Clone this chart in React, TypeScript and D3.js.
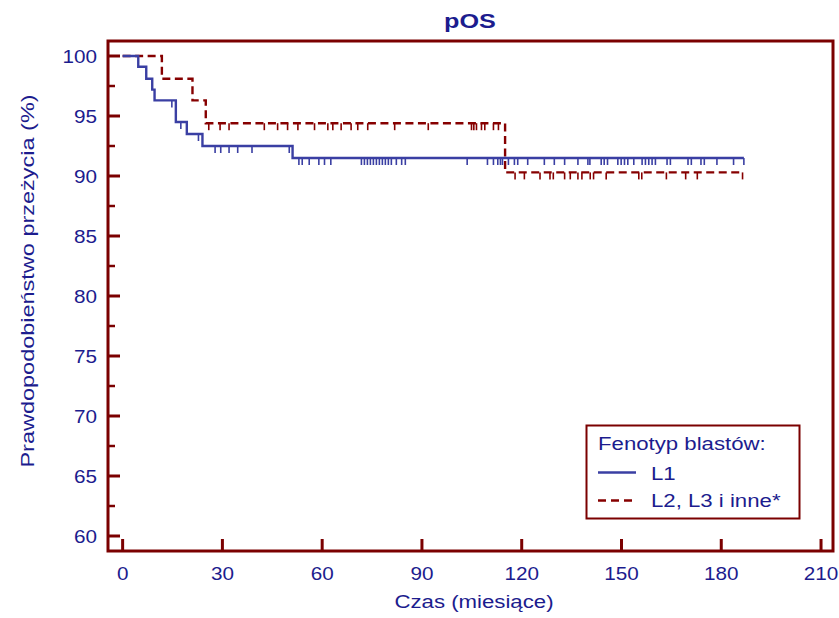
import React from "react";
import * as d3 from "d3";

// Kaplan-Meier steps (months, survival %)
const l1Times = [4.7, 7.1, 8.9, 9.6, 16.0, 19.3, 24.0, 51.1];
const l1Surv = [99.1, 98.1, 97.2, 96.3, 94.5, 93.5, 92.5, 91.5];
const l1Censored = [
  14.8, 17.5, 22.8, 27.8, 29.5, 32.0, 34.6, 38.9, 50.1, 53.0, 54.0, 56.1, 59.0,
  60.7, 62.6, 71.8, 72.7, 73.6, 74.5, 75.4, 76.3, 77.2, 78.1, 79.0, 79.9, 80.8,
  82.3, 83.9, 85.0, 103.6, 109.7, 111.5, 112.8, 113.6, 114.2, 116.0, 117.8,
  118.8, 121.8, 126.8, 129.8, 132.9, 136.9, 139.9, 140.5, 143.9, 144.8, 145.8,
  148.9, 149.9, 150.9, 151.9, 153.7, 156.2, 157.2, 158.2, 159.2, 160.2, 163.7,
  164.7, 170.0, 171.0, 173.9, 174.9, 178.7, 183.7, 186.8,
];

const l2Times = [11.8, 21.0, 25.0, 115.0];
const l2Surv = [98.1, 96.3, 94.4, 90.3];
const l2Censored = [
  25.9, 29.3, 32.0, 42.6, 46.6, 49.6, 52.7, 57.7, 61.7, 63.2, 65.7, 68.7, 70.7,
  73.7, 81.8, 91.9, 104.9, 105.6, 106.4, 107.9, 108.9, 111.5, 113.0, 118.0,
  120.8, 125.5, 128.5, 129.5, 132.9, 134.6, 136.9, 138.1, 140.6, 141.6, 145.4,
  155.2, 156.1, 163.5, 169.3, 172.8, 186.4,
];

const xTicks = [0, 30, 60, 90, 120, 150, 180, 210];
const yTicks = [60, 65, 70, 75, 80, 85, 90, 95, 100];
const yMinorTicks = [62.5, 67.5, 72.5, 77.5, 82.5, 87.5, 92.5, 97.5];

const legendTitle = "Fenotyp blastów:";
const seriesNames = ["L1", "L2, L3 i inne*"];

const W = 839;
const H = 618;
const left = 108;
const right = 833;
const top = 41;
const bottom = 551;

const AXIS = "#7b0000";
const TEXT = "#1c1c8e";
const BLUE = "#3a3fa3";
const RED = "#860000";
const FONT = "'Liberation Sans', Arial, Helvetica, sans-serif";

const x = d3.scaleLinear().domain([-4.4, 213.6]).range([left, right]);
const y = d3.scaleLinear().domain([58.75, 101.25]).range([bottom, top]);

function survivalAt(times: number[], surv: number[], t: number) {
  let s = 100;
  times.forEach((tt, i) => {
    if (tt <= t) s = surv[i];
  });
  return s;
}

function stepPoints(times: number[], surv: number[], end: number) {
  const pts: [number, number][] = [[0, 100]];
  times.forEach((t, i) => pts.push([t, surv[i]]));
  pts.push([end, surv[surv.length - 1]]);
  return pts;
}

const line = d3
  .line<[number, number]>()
  .x((d) => x(d[0]))
  .y((d) => y(d[1]))
  .curve(d3.curveStepAfter);

// stretched text, the original glyphs are wider than Arial
function SText(props: {
  x: number;
  y: number;
  anchor?: string;
  size?: number;
  weight?: string;
  sx?: number;
  rotate?: number;
  children: React.ReactNode;
}) {
  const { sx = 1.2, size = 18.5 } = props;
  const rot = props.rotate ? ` rotate(${props.rotate})` : "";
  return (
    <text
      transform={`translate(${props.x},${props.y})${rot} scale(${sx},1)`}
      textAnchor={props.anchor || "start"}
      fontSize={size}
      fontWeight={props.weight || "normal"}
      fontFamily={FONT}
      fill={TEXT}
    >
      {props.children}
    </text>
  );
}

function Curve(props: {
  times: number[];
  surv: number[];
  censored: number[];
  color: string;
  dash?: string;
}) {
  const end = d3.max(props.censored) as number;
  const d = line(stepPoints(props.times, props.surv, end)) || "";
  return (
    <g>
      <path
        d={d}
        fill="none"
        stroke={props.color}
        strokeWidth={2.4}
        strokeDasharray={props.dash}
      />
      {props.censored.map((t, i) => {
        const yy = y(survivalAt(props.times, props.surv, t));
        return (
          <line
            key={i}
            x1={x(t)}
            x2={x(t)}
            y1={yy}
            y2={yy + 7}
            stroke={props.color}
            strokeWidth={1.6}
          />
        );
      })}
    </g>
  );
}

export default function App() {
  return (
    <svg
      width={W}
      height={H}
      style={{ position: "absolute", left: 0, top: 0, background: "#fff" }}
    >
      <SText x={470} y={28} size={21} weight="bold" anchor="middle">
        pOS
      </SText>

      <Curve
        times={l2Times}
        surv={l2Surv}
        censored={l2Censored}
        color={RED}
        dash="8,4.5"
      />
      <Curve times={l1Times} surv={l1Surv} censored={l1Censored} color={BLUE} />

      {/* frame */}
      <rect
        x={left}
        y={top}
        width={right - left}
        height={bottom - top}
        fill="none"
        stroke={AXIS}
        strokeWidth={3}
      />

      {/* y axis ticks */}
      {yTicks.map((v) => (
        <g key={v}>
          <line x1={left} x2={left + 12} y1={y(v)} y2={y(v)} stroke={AXIS} strokeWidth={3} />
          <SText x={97} y={y(v) + 6.7} anchor="end" size={18} sx={1.15}>
            {v}
          </SText>
        </g>
      ))}
      {yMinorTicks.map((v) => (
        <line key={v} x1={left} x2={left + 7} y1={y(v)} y2={y(v)} stroke={AXIS} strokeWidth={2.5} />
      ))}

      {/* x axis ticks */}
      {xTicks.map((v) => (
        <g key={v}>
          <line x1={x(v)} x2={x(v)} y1={bottom} y2={bottom - 12} stroke={AXIS} strokeWidth={3} />
          <SText x={x(v)} y={580} anchor="middle" size={18} sx={1.15}>
            {v}
          </SText>
        </g>
      ))}

      <SText x={474} y={608} anchor="middle">
        Czas (miesiące)
      </SText>
      <SText x={34} y={281} anchor="middle" rotate={-90} sx={1.27}>
        Prawdopodobieństwo przeżycia (%)
      </SText>

      {/* legend */}
      <rect x={586.5} y={425.5} width={213} height={93} fill="#fff" stroke={AXIS} strokeWidth={2} />
      <SText x={598} y={450}>
        {legendTitle}
      </SText>
      <line x1={598} x2={636} y1={472.5} y2={472.5} stroke={BLUE} strokeWidth={2.4} />
      <SText x={651} y={480}>
        {seriesNames[0]}
      </SText>
      <line
        x1={598}
        x2={636}
        y1={500.5}
        y2={500.5}
        stroke={RED}
        strokeWidth={2.4}
        strokeDasharray="8,5"
      />
      <SText x={651} y={507}>
        {seriesNames[1]}
      </SText>
    </svg>
  );
}
